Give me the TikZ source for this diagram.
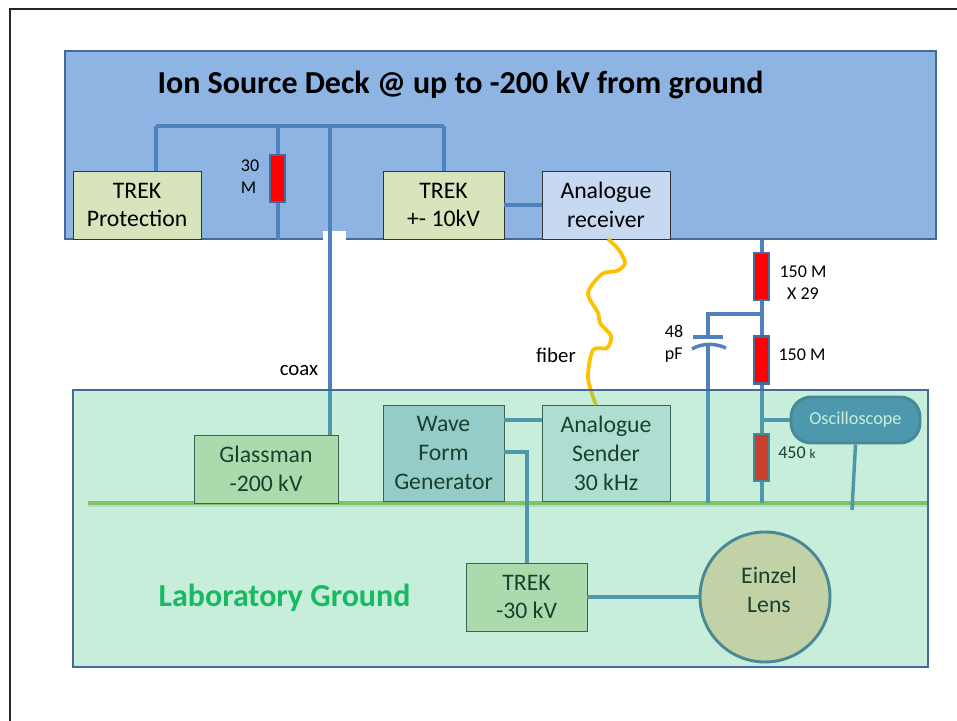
\documentclass[tikz,border=0pt]{standalone}
\usepackage{fontspec}
\setmainfont{Carlito}
\definecolor{deckblue}{HTML}{8EB4E3}
\definecolor{edgeblue}{HTML}{466A9C}
\definecolor{wireblue}{HTML}{4F81BD}
\definecolor{boxgreen}{HTML}{D8E4BC}
\definecolor{boxblue}{HTML}{C6D9F1}
\definecolor{wavefill}{HTML}{B9CDE5}
\definecolor{senderfill}{HTML}{DCE6F2}
\definecolor{lensfill}{HTML}{FBD5B5}
\definecolor{groundgreen}{HTML}{9BBB59}
\definecolor{labgreen}{RGB}{78,203,140}
\definecolor{fiberyellow}{HTML}{FFC000}
\definecolor{titlegreen}{HTML}{00B050}
\tikzset{
    box/.style={draw=black!80, line width=0.7pt, fill=boxgreen, align=center, inner sep=0pt,
        font=\fontsize{17.8}{21.7}\selectfont},
    resistor/.style={draw=edgeblue, line width=2.2pt, fill=red, minimum width=11.25pt, minimum height=35.25pt, inner sep=0pt},
    wire/.style={draw=wireblue, line width=3pt},
    small/.style={align=left, inner sep=0pt, font=\fontsize{13.5}{16.5}\selectfont},
    caption/.style={inner sep=0pt, font=\fontsize{15.6}{18}\selectfont},
    heading/.style={inner sep=0pt, font=\fontsize{24}{28}\selectfont\bfseries}
}
\begin{document}
\begin{tikzpicture}[x=0.75pt, y=0.75pt]
    \useasboundingbox (0,0) rectangle (957,721);
    \draw[line width=1.1pt, black!85] (10,0) -- (10,712) -- (957,712);
    \node (deck) [draw=edgeblue, line width=1.9pt, fill=deckblue, minimum width=653.25pt, minimum height=141pt] at (500.5,576) {};
    \node (gap) [fill=white, minimum width=17.25pt, minimum height=8pt, inner sep=0pt] at (334.5,485) {};
    \node (title) [heading] at (460.5,636.5) {Ion Source Deck @ up to -200 kV from ground};
    \node (protection) [box, minimum width=96pt, minimum height=51pt] at (137,516) {TREK\\Protection};
    \node (trekten) [box, minimum width=90.75pt, minimum height=51pt, node distance=229.875pt, right of=protection] {TREK\\+- 10kV};
    \node (receiver) [box, fill=boxblue, minimum width=96pt, minimum height=51pt, node distance=121.875pt, right of=trekten] {Analogue\\receiver};
    \node (res30) [resistor] at (277.5,542.5) {};
    \node (lbl30) [small] at (250,544) {30\\M};
    \coordinate (busleft) at (156,595);
    \coordinate (busright) at (443.5,595);
    \coordinate (coaxtop) at (330,595);
    \coordinate (bustap) at (277.5,595);
    \coordinate (groundleft) at (88,218);
    \coordinate (groundright) at (927,218);
    \draw[black, opacity=0.1, line width=2.2pt] (88,215.5) -- (927,215.5);
    \draw[groundgreen, line width=3.2pt] (groundleft) -- (groundright);
    \node (glassman) [box, minimum width=108pt, minimum height=51pt] at (266,252) {Glassman\\-200 kV};
    \node (wave) [box, fill=wavefill, minimum width=90.75pt, minimum height=72pt] at (443.5,268) {Wave\\Form\\Generator};
    \node (sender) [box, fill=senderfill, minimum width=96pt, minimum height=72pt, node distance=121.875pt, right of=wave] {Analogue\\Sender\\30 kHz};
    \node (trekthirty) [box, minimum width=90.75pt, minimum height=51pt] at (526.5,124) {TREK\\-30 kV};
    \node (lens) [circle, draw=edgeblue, line width=2.2pt, fill=lensfill, minimum size=97.5pt, inner sep=0pt, node distance=178.875pt, right of=trekthirty] {};
    \node (lenstext) [box, draw=none, fill=none] at (769,131) {Einzel\\Lens};
    \node (restop) [resistor] at (761.5,444.5) {};
    \node (resmid) [resistor, node distance=62.625pt, below of=restop] {};
    \node (reslow) [resistor, node distance=73.125pt, below of=resmid] {};
    \node (lbltop) [small, align=center] at (803,438) {150 M\\X 29};
    \node (lblmid) [small] at (802,366.5) {150 M};
    \node (lbllow) [small] at (797,268.5) {450 {\fontsize{10}{12}\selectfont k}};
    \node (lblcap) [small] at (674,377) {48\\pF};
    \node (scope) [rounded corners=15pt, draw=edgeblue, line width=2.2pt, fill=wireblue, text=white, inner sep=0pt,
        minimum width=96.75pt, minimum height=34.5pt, font=\fontsize{13.7}{16}\selectfont] at (855.5,301) {Oscilloscope};
    \coordinate (captop) at (708,384);
    \coordinate (capbottom) at (708,377);
    \coordinate (tap) at (761.5,407);
    \coordinate (scopeend) at (852,211);
    \draw[wire] (busleft) -- (busright);
    \draw[wire] (busleft) -- (protection.north -| busleft);
    \draw[wire] (busright) -- (trekten.north);
    \draw[wire] (bustap) -- (res30.north);
    \draw[wire] (res30.south) -- (deck.south -| res30);
    \draw[wire] (coaxtop) -- (glassman.north -| coaxtop);
    \draw[wire] (trekten.east) -- (receiver.west);
    \draw[wire] (deck.south -| restop) -- (restop.north);
    \draw[wire] (restop.south) -- (resmid.north);
    \draw[wire] (resmid.south) -- (reslow.north);
    \draw[wire] (reslow.south) -- (groundleft -| reslow);
    \draw[wire] (tap) -- (tap -| captop) -- (captop);
    \draw[wire] (693,384) -- (723,384);
    \draw[wire, line width=2.6pt] (692,372) .. controls (702,378) and (715,378) .. (726,373);
    \draw[wire] (capbottom) -- (groundleft -| capbottom);
    \draw[wire] (scope.west) -- (scope.west -| reslow);
    \draw[wire, line width=2.6pt] (scope.south) -- (scopeend);
    \draw[wire] (wave.east |- 0,301) -- (sender.west |- 0,301);
    \draw[wire] (wave.east |- 0,269) -- (526.5,269) -- (trekthirty.north);
    \draw[wire] (trekthirty.east) -- (lens.west);
    \draw[fiberyellow, line width=2.8pt] plot[smooth, tension=0.5] coordinates {(608,482) (619,471) (625,458) (617,450) (602,447) (588,428) (598,408) (600,398) (611,385) (607,373) (593,371) (588,343) (596,316)};
    \node (lblfiber) [caption] at (556,365.5) {fiber};
    \node (lblcoax) [caption] at (299,350) {coax};
    \node (groundtitle) [heading, text=titlegreen] at (284.5,123) {Laboratory Ground};
    \node (lab) [draw=edgeblue, line width=1.9pt, fill=labgreen, fill opacity=0.32, draw opacity=1, minimum width=641.25pt, minimum height=207.75pt] at (500.5,192.5) {};
\end{tikzpicture}
\end{document}
